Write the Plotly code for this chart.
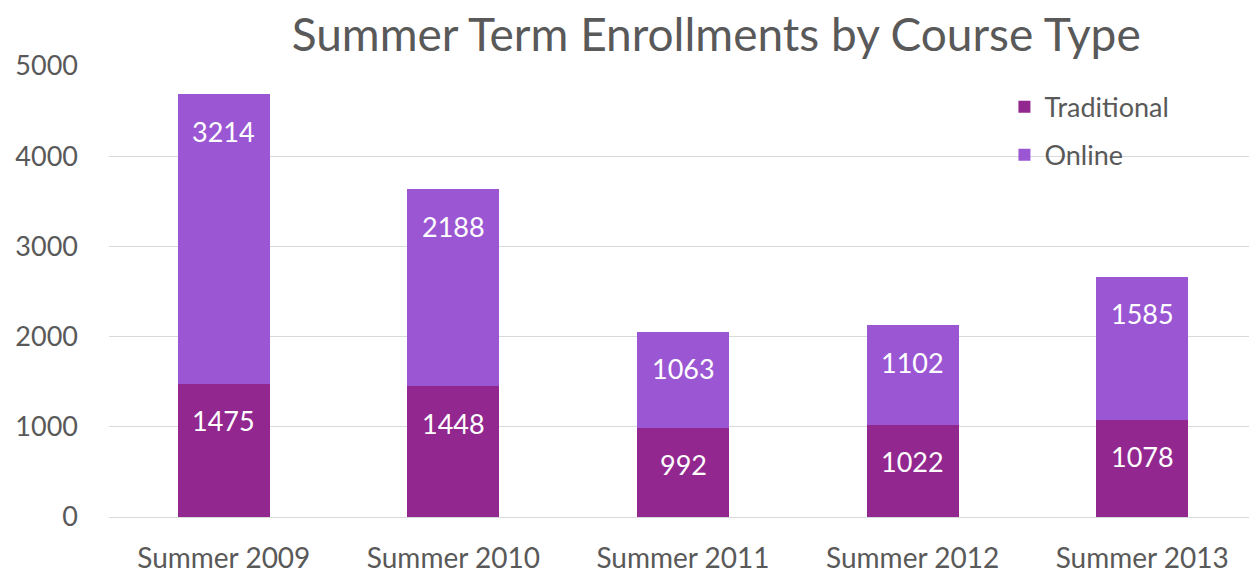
import plotly.graph_objects as go

terms = ["Summer 2009", "Summer 2010", "Summer 2011", "Summer 2012", "Summer 2013"]
traditional = [1475, 1448, 992, 1022, 1078]
online = [3214, 2188, 1063, 1102, 1585]
y_ticks = [0, 1000, 2000, 3000, 4000, 5000]

FONT = "Lato, 'Open Sans', sans-serif"
TEXT_GREY = "#595959"

fig = go.Figure()
series = (
    ("Traditional", traditional, "#92278F"),
    ("Online", online, "#9B57D3"),
)
base = [0] * len(terms)
for name, vals, color in series:
    fig.add_trace(
        go.Bar(
            x=terms,
            y=vals,
            name=name,
            legendgroup=name,
            marker=dict(color=color, line=dict(width=0)),
        )
    )
    # value labels sit just inside the top of each segment
    base = [b + v for b, v in zip(base, vals)]
    for term, top, v in zip(terms, base, vals):
        fig.add_annotation(
            x=term, y=top, text=str(v),
            showarrow=False, yanchor="middle", yshift=-37,
            font=dict(color="white", size=27, family=FONT),
        )

# page body keeps its default 8px margin, so the figure is sized to fit
fig.update_layout(
    barmode="stack",
    bargap=0.6,
    width=1249,
    height=568,
    paper_bgcolor="white",
    plot_bgcolor="white",
    margin=dict(l=101, r=0, t=58, b=59),
    font=dict(family=FONT, color=TEXT_GREY),
    title=dict(
        text="Summer Term Enrollments by Course Type",
        font=dict(size=46, color=TEXT_GREY, family=FONT),
        x=0.567, xanchor="center",
        y=0.952, yanchor="middle",
    ),
    legend=dict(
        traceorder="grouped",
        tracegroupgap=10,
        x=0.78, xanchor="left",
        y=0.963, yanchor="top",
        font=dict(size=27, color=TEXT_GREY),
        bgcolor="rgba(0,0,0,0)",
        itemwidth=30,
    ),
    showlegend=True,
)
fig.update_xaxes(
    tickfont=dict(size=28, color=TEXT_GREY),
    ticklabelstandoff=16,
    showline=True, linecolor="#d9d9d9", linewidth=1,
    showgrid=False,
    automargin=False,
)
fig.update_yaxes(
    range=[0, 5000],
    tickvals=y_ticks,
    tickfont=dict(size=27, color=TEXT_GREY),
    ticklabelstandoff=30,
    showgrid=True, gridcolor="#d9d9d9", gridwidth=1,
    zeroline=False,
    automargin=False,
)

fig.write_html("out.html")
